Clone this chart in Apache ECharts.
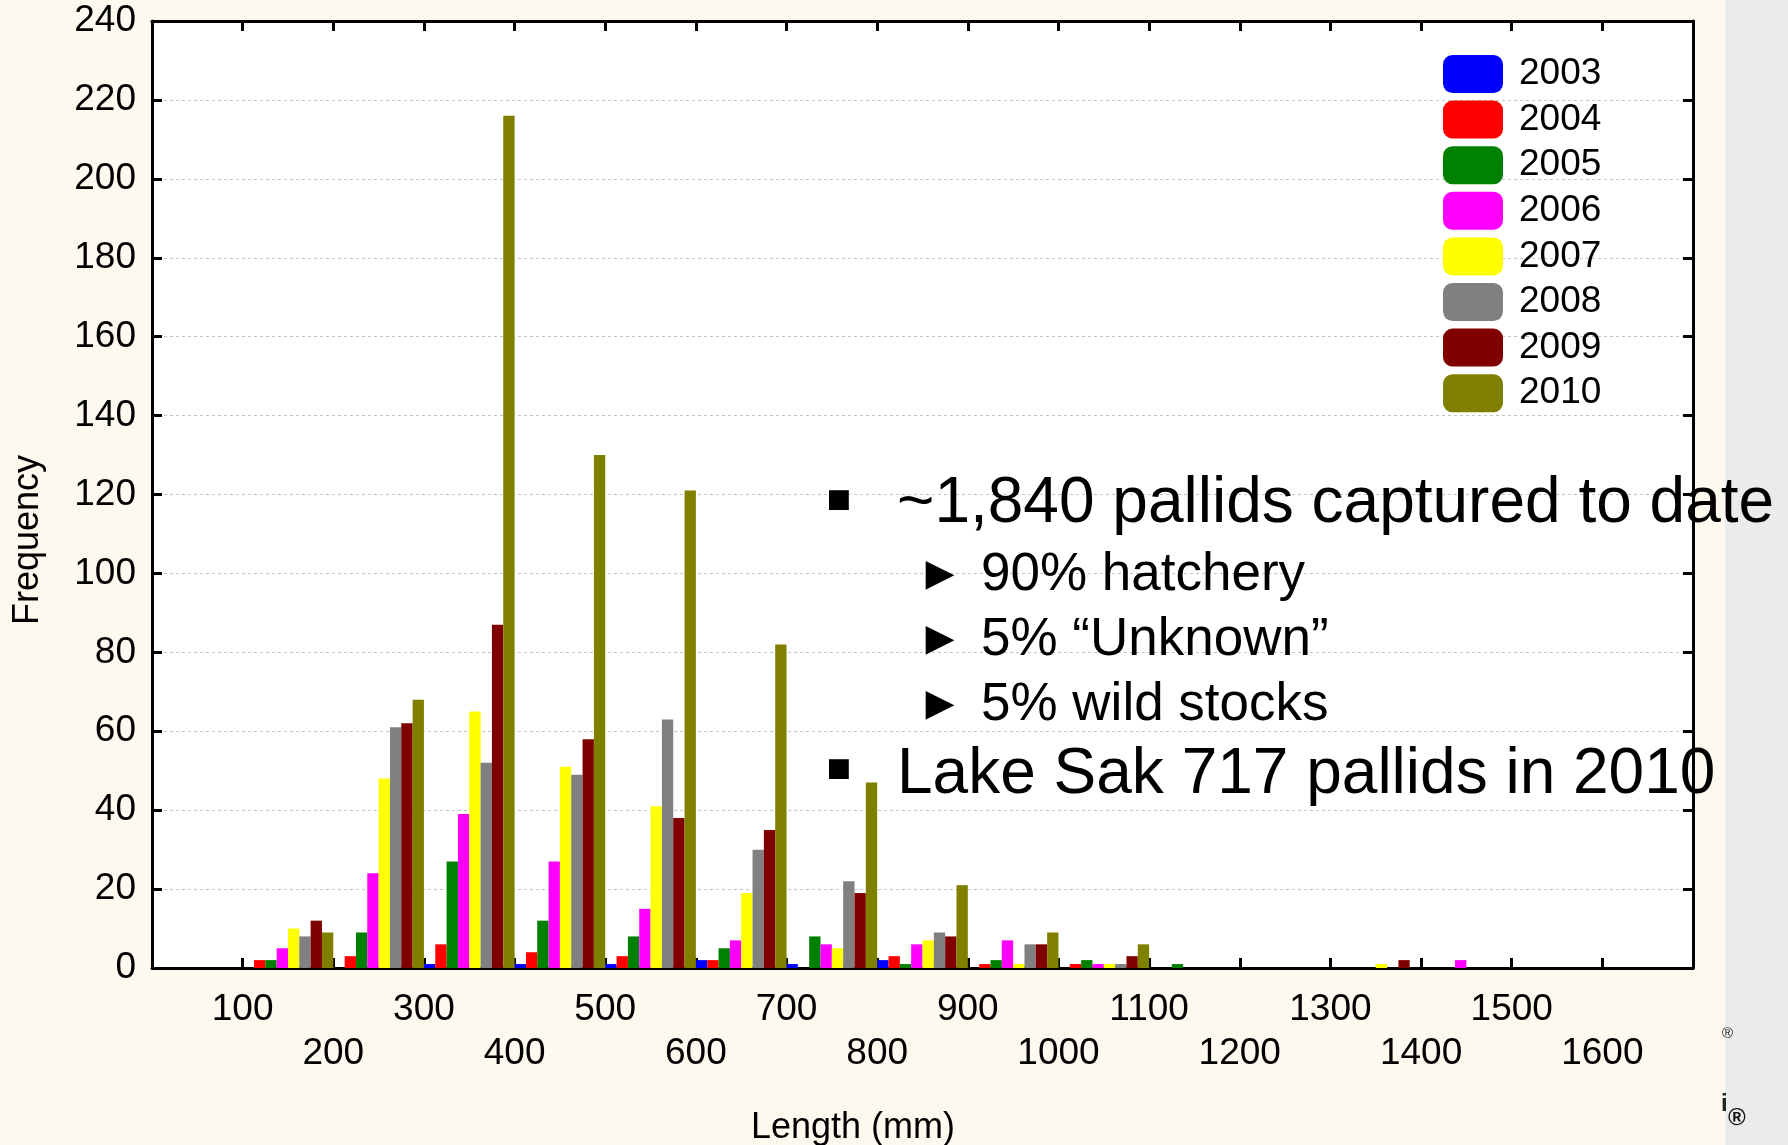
<!DOCTYPE html>
<html>
<head>
<meta charset="utf-8">
<script src="https://cdn.jsdelivr.net/npm/echarts@6/dist/echarts.min.js"></script>
<style>
  html, body { margin: 0; padding: 0; background: #fdf9ee; }
  #chart { width: 1788px; height: 1145px; }
</style>
</head>
<body>
<div id="chart"></div>
<script>
// Length bins (mm): 0-100, 100-200, ..., 1600-1700
const bins = ['0-100','100-200','200-300','300-400','400-500','500-600','600-700','700-800',
              '800-900','900-1000','1000-1100','1100-1200','1200-1300','1300-1400','1400-1500',
              '1500-1600','1600-1700'];
const years = ['2003','2004','2005','2006','2007','2008','2009','2010'];
const colors = ['#0000ff','#ff0000','#008000','#ff00ff','#ffff00','#808080','#800000','#808000'];

const y2003 = [0, 0, 0, 1, 1, 1, 2, 1, 2, 0, 0, 0, 0, 0, 0, 0, 0];
const y2004 = [0, 2, 3, 6, 4, 3, 2, 0, 3, 1, 1, 0, 0, 0, 0, 0, 0];
const y2005 = [0, 2, 9, 27, 12, 8, 5, 8, 1, 2, 2, 1, 0, 0, 0, 0, 0];
const y2006 = [0, 5, 24, 39, 27, 15, 7, 6, 6, 7, 1, 0, 0, 0, 2, 0, 0];
const y2007 = [0, 10, 48, 65, 51, 41, 19, 5, 7, 1, 1, 0, 0, 1, 0, 0, 0];
const y2008 = [0, 8, 61, 52, 49, 63, 30, 22, 9, 6, 1, 0, 0, 0, 0, 0, 0];
const y2009 = [0, 12, 62, 87, 58, 38, 35, 19, 8, 6, 3, 0, 0, 2, 0, 0, 0];
const y2010 = [0, 9, 68, 216, 130, 121, 82, 47, 21, 9, 6, 0, 0, 0, 0, 0, 0];
const seriesValues = [y2003, y2004, y2005, y2006, y2007, y2008, y2009, y2010];

const xMin = 0, xMax = 1700, xStep = 100;
const yMin = 0, yMax = 240, yStep = 20;

const FONT = 'Liberation Sans, Arial, sans-serif';

const chart = echarts.init(document.getElementById('chart'), null, { renderer: 'canvas' });

const lineStyle = { color: '#000', width: 3 };
const tickStyle = { show: true, inside: true, length: 10, lineStyle: { color: '#000', width: 3 } };

const option = {
  animation: false,
  backgroundColor: '#fdf9ee',
  textStyle: { fontFamily: FONT },
  grid: { left: 152, right: 95, top: 21, bottom: 177, show: true, backgroundColor: '#ffffff', borderWidth: 0 },
  legend: {
    orient: 'vertical',
    left: 1438,
    top: 50,
    itemWidth: 60,
    itemHeight: 38,
    itemGap: 7.6,
    icon: 'roundRect',
    data: years,
    itemStyle: { borderWidth: 0 },
    textStyle: { fontSize: 37, color: '#000', fontFamily: FONT, padding: [0, 0, 0, 11] }
  },
  xAxis: [
    {
      type: 'value', position: 'bottom', min: xMin, max: xMax, interval: xStep,
      axisLine: { show: true, onZero: false, lineStyle: lineStyle },
      axisTick: tickStyle,
      splitLine: { show: false },
      axisLabel: {
        show: true, margin: 20, fontSize: 37, color: '#000', fontFamily: FONT, lineHeight: 44,
        formatter: function (v) {
          if (v === xMin || v === xMax) return '';
          return (v / xStep) % 2 === 1 ? String(v) : '\n' + v;
        }
      }
    },
    {
      type: 'value', position: 'top', min: xMin, max: xMax, interval: xStep,
      axisLine: { show: true, onZero: false, lineStyle: lineStyle },
      axisTick: tickStyle,
      splitLine: { show: false },
      axisLabel: { show: false }
    },
    {
      type: 'category', data: bins, show: false, boundaryGap: true
    }
  ],
  yAxis: [
    {
      type: 'value', position: 'left', min: yMin, max: yMax, interval: yStep,
      axisLine: { show: true, onZero: false, lineStyle: lineStyle },
      axisTick: tickStyle,
      axisLabel: { show: true, margin: 16, fontSize: 37, color: '#000', fontFamily: FONT },
      splitLine: { show: true, lineStyle: { color: '#c4c4c4', width: 1, type: [3, 3] } }
    },
    {
      type: 'value', position: 'right', min: yMin, max: yMax, interval: yStep,
      axisLine: { show: true, onZero: false, lineStyle: lineStyle },
      axisTick: tickStyle,
      axisLabel: { show: false },
      splitLine: { show: false }
    }
  ],
  series: years.map(function (yr, i) {
    return {
      name: yr,
      type: 'bar',
      xAxisIndex: 2,
      yAxisIndex: 0,
      data: seriesValues[i],
      barGap: '0%',
      barCategoryGap: '0%',
      itemStyle: { color: colors[i] },
      emphasis: { disabled: true }
    };
  }),
  graphic: [
    { type: 'rect', left: 1725, top: 0, z: -10, shape: { width: 63, height: 1145 }, style: { fill: '#e9ecea' } },
    { type: 'text', x: 1722, y: 1034, z: 5, style: { text: '®', font: '15px ' + FONT, fill: '#222', verticalAlign: 'middle' } },
    { type: 'text', x: 1721, y: 1104, z: 5, style: { text: 'i', font: 'bold 24px ' + FONT, fill: '#222', verticalAlign: 'middle' } },
    { type: 'text', x: 1728, y: 1118, z: 5, style: { text: '®', font: 'bold 24px ' + FONT, fill: '#111', verticalAlign: 'middle' } },

    { type: 'text', x: 28, y: 540, rotation: Math.PI / 2, z: 5,
      style: { text: 'Frequency', font: '36px ' + FONT, fill: '#000', align: 'center', verticalAlign: 'middle' } },
    { type: 'text', x: 853, y: 1128, z: 5,
      style: { text: 'Length (mm)', font: '36px ' + FONT, fill: '#000', align: 'center', verticalAlign: 'middle' } },

    { type: 'text', x: 839, y: 503, z: 50,
      style: { text: '▪', font: '80px ' + FONT, fill: '#000', align: 'center', verticalAlign: 'middle' } },
    { type: 'text', x: 897, y: 504, z: 50,
      style: { text: '~1,840 pallids captured to date', font: '64px ' + FONT, fill: '#000', verticalAlign: 'middle' } },
    { type: 'text', x: 940, y: 576, z: 50,
      style: { text: '►', font: '48px ' + FONT, fill: '#000', align: 'center', verticalAlign: 'middle' } },
    { type: 'text', x: 981, y: 575, z: 50,
      style: { text: '90% hatchery', font: '53px ' + FONT, fill: '#000', verticalAlign: 'middle' } },
    { type: 'text', x: 940, y: 641, z: 50,
      style: { text: '►', font: '48px ' + FONT, fill: '#000', align: 'center', verticalAlign: 'middle' } },
    { type: 'text', x: 981, y: 640, z: 50,
      style: { text: '5% “Unknown”', font: '53px ' + FONT, fill: '#000', verticalAlign: 'middle' } },
    { type: 'text', x: 940, y: 706, z: 50,
      style: { text: '►', font: '48px ' + FONT, fill: '#000', align: 'center', verticalAlign: 'middle' } },
    { type: 'text', x: 981, y: 705, z: 50,
      style: { text: '5% wild stocks', font: '53px ' + FONT, fill: '#000', verticalAlign: 'middle' } },
    { type: 'text', x: 839, y: 772, z: 50,
      style: { text: '▪', font: '80px ' + FONT, fill: '#000', align: 'center', verticalAlign: 'middle' } },
    { type: 'text', x: 897, y: 775, z: 50,
      style: { text: 'Lake Sak 717 pallids in 2010', font: '64px ' + FONT, fill: '#000', verticalAlign: 'middle' } }
  ]
};

chart.setOption(option);
</script>
</body>
</html>
